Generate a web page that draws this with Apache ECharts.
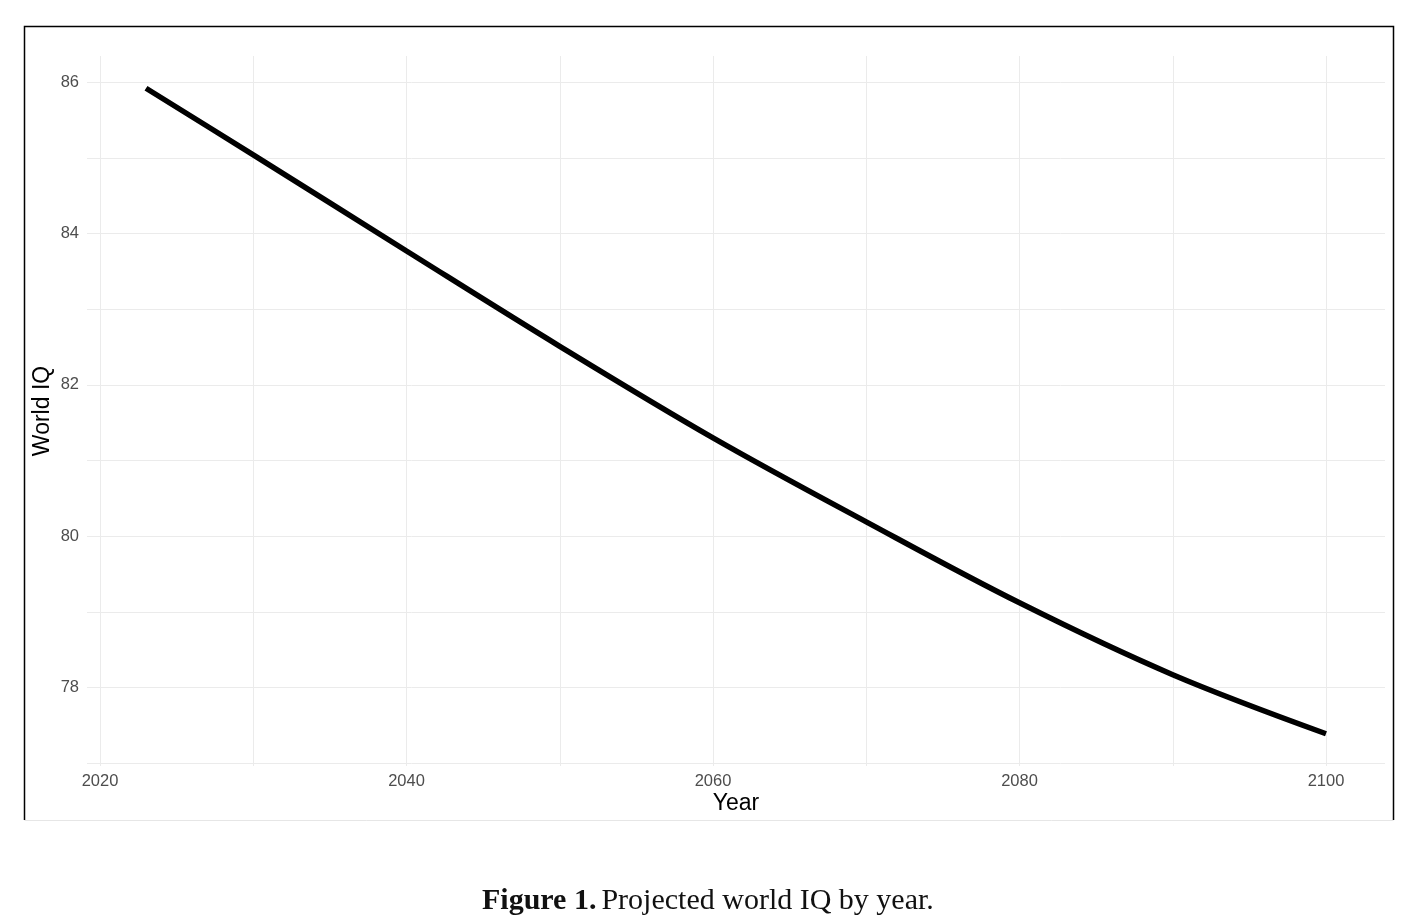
<!DOCTYPE html>
<html>
<head>
<meta charset="utf-8">
<script src="https://cdn.jsdelivr.net/npm/echarts@6/dist/echarts.min.js"></script>
<style>
html,body{margin:0;padding:0;background:#fff;}
#chart{width:1406px;height:921px;}
</style>
</head>
<body>
<div id="chart"></div>
<script>
// Data
const years = [2023, 2030, 2040, 2050, 2060, 2070, 2080, 2090, 2100];
const worldIQ = [85.92, 85.04, 83.77, 82.51, 81.30, 80.19, 79.12, 78.17, 77.39];
// Tick / gridline values
const xTickLabels = [2020, 2040, 2060, 2080, 2100];
const xGridValues = [2020, 2030, 2040, 2050, 2060, 2070, 2080, 2090, 2100];
const yTickLabels = [78, 80, 82, 84, 86];
const yGridValues = [77, 78, 79, 80, 81, 82, 83, 84, 85, 86];

// ggplot-style 5% expansion of data range
const xMinD = Math.min(...years), xMaxD = Math.max(...years);
const yMinD = Math.min(...worldIQ), yMaxD = Math.max(...worldIQ);
const xPad = (xMaxD - xMinD) * 0.05, yPad = (yMaxD - yMinD) * 0.05;

const chart = echarts.init(document.getElementById('chart'));
const gridColor = '#ebebeb';
const sans = 'Liberation Sans, Arial, sans-serif';
const serif = 'Liberation Serif, serif';
chart.setOption({
  animation: false,
  backgroundColor: '#fff',
  textStyle: { fontFamily: sans },
  grid: { left: 87, right: 21, top: 56, bottom: 155, containLabel: false },
  title: {
    left: 477,
    top: 881,
    text: '{b|Figure 1.} {r|Projected world IQ by year.}',
    textStyle: {
      fontWeight: 'normal',
      rich: {
        b: { fontFamily: serif, fontWeight: 'bold', fontSize: 30, color: '#111' },
        r: { fontFamily: serif, fontWeight: 'normal', fontSize: 30, color: '#111' }
      }
    }
  },
  xAxis: {
    type: 'value',
    min: xMinD - xPad,
    max: xMaxD + xPad,
    name: 'Year',
    nameLocation: 'middle',
    nameGap: 26,
    nameMoveOverlap: false,
    nameTextStyle: { fontSize: 23, color: '#000', fontFamily: sans },
    axisLine: { show: false },
    axisTick: { show: false, customValues: xGridValues },
    axisLabel: { customValues: xTickLabels, fontSize: 16.5, color: '#4d4d4d', margin: 7,
      formatter: v => String(v) },
    splitLine: { show: true, lineStyle: { color: gridColor, width: 1 } }
  },
  yAxis: {
    type: 'value',
    min: yMinD - yPad,
    max: yMaxD + yPad,
    name: 'World IQ',
    nameLocation: 'middle',
    nameGap: 33,
    nameMoveOverlap: false,
    nameRotate: 90,
    nameTextStyle: { fontSize: 23, color: '#000', fontFamily: sans },
    axisLine: { show: false },
    axisTick: { show: false, customValues: yGridValues },
    axisLabel: { customValues: yTickLabels, fontSize: 16.5, color: '#4d4d4d', margin: 8,
      formatter: v => String(v) },
    splitLine: { show: true, lineStyle: { color: gridColor, width: 1 } }
  },
  series: [{
    type: 'line',
    data: years.map((y, i) => [y, worldIQ[i]]),
    showSymbol: false,
    smooth: 0.35,
    lineStyle: { color: '#000', width: 5.5, cap: 'butt' },
    silent: true
  }],
  graphic: [
    { type: 'polyline', shape: { points: [[24.5, 820], [24.5, 26.5], [1393.5, 26.5], [1393.5, 820]] },
      style: { stroke: '#000', lineWidth: 1.5, fill: null }, silent: true },
    { type: 'line', shape: { x1: 24.5, y1: 820.5, x2: 1393.5, y2: 820.5 },
      style: { stroke: '#e6e6e6', lineWidth: 1 }, silent: true }
  ]
});
</script>
</body>
</html>
